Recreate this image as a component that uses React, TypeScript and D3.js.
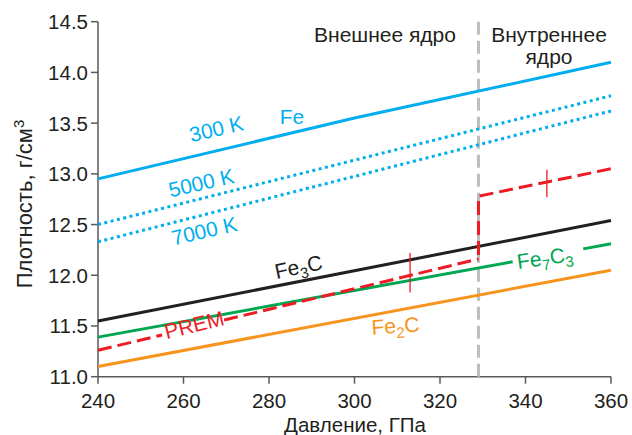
import React from "react";
import * as d3 from "d3";

// pressure, GPa / density, g/cm3
const fe300 = [[240, 12.95], [300, 13.55], [360, 14.1]];
const fe5000 = [[240, 12.5], [360, 13.77]];
const fe7000 = [[240, 12.33], [360, 13.62]];
const fe3c = [[240, 11.55], [360, 12.54]];
const fe7c3 = [[240, 11.39], [360, 12.31]];
const fe2c = [[240, 11.1], [360, 12.05]];
const prem = [[240, 11.26], [329, 12.16], [329, 12.78], [360, 13.05]];
const premBars = [{ p: 313, lo: 11.83, hi: 12.22 }, { p: 345, lo: 12.77, hi: 13.04 }];
const coreBoundary = 329;
const fe7c3Gap = [337, 353.5];
const premGap = [255, 269.5];

const xTicks = [240, 260, 280, 300, 320, 340, 360];
const yTicks = [11.0, 11.5, 12.0, 12.5, 13.0, 13.5, 14.0, 14.5];

const W = 632, H = 435;
const m = { left: 98, right: 21, top: 21.7, bottom: 58.3 };

const BLUE = "#00aeef", BLACK = "#231f20", GREEN = "#00a651", RED = "#ed1c24", ORANGE = "#f7941d", GRAY = "#bcbec0";
const FONT = "'Liberation Sans', Arial, sans-serif";

// split a polyline (by pressure) leaving out a gap
function cut(pts, gap) {
  const f = d3.scaleLinear().domain(pts.map(d => d[0])).range(pts.map(d => d[1]));
  const before = pts.filter(d => d[0] < gap[0]).concat([[gap[0], f(gap[0])]]);
  const after = [[gap[1], f(gap[1])]].concat(pts.filter(d => d[0] > gap[1]));
  return [before, after];
}

export default function App() {
  const x = d3.scaleLinear().domain([240, 360]).range([m.left, W - m.right]);
  const y = d3.scaleLinear().domain([11, 14.5]).range([H - m.bottom, m.top]);
  const line = d3.line().x(d => x(d[0])).y(d => y(d[1]));

  const premFirst = prem.slice(0, 2);
  const [premA, premB] = cut(premFirst, premGap);
  const premRest = prem.slice(1);
  const [greenA, greenB] = cut(fe7c3, fe7c3Gap);

  const tickText = { fontFamily: FONT, fontSize: 20.5, fill: BLACK };
  const lbl = { fontFamily: FONT, fontSize: 21 };

  return (
    <svg width={W} height={H} style={{ position: "absolute", left: 0, top: 0, background: "#fff" }}>
      {/* axes */}
      <g stroke="#58595b" strokeWidth={1.5} fill="none">
        <line x1={x(240)} x2={x(240)} y1={y(14.5)} y2={y(11)} />
        <line x1={x(240)} x2={x(360)} y1={y(11)} y2={y(11)} />
        {yTicks.map(t => <line key={t} x1={x(240) - 7} x2={x(240)} y1={y(t)} y2={y(t)} />)}
        {xTicks.map(t => <line key={t} x1={x(t)} x2={x(t)} y1={y(11)} y2={y(11) + 7} />)}
      </g>
      {yTicks.map(t => (
        <text key={t} x={x(240) - 10} y={y(t)} dy="0.36em" textAnchor="end" style={tickText}>{t.toFixed(1)}</text>
      ))}
      {xTicks.map(t => (
        <text key={t} x={x(t)} y={y(11) + 31} textAnchor="middle" style={tickText}>{t}</text>
      ))}
      <text x={355} y={432} textAnchor="middle" style={{ ...tickText, fontSize: 20.5 }}>Давление, ГПа</text>
      <text transform="translate(32,204) rotate(-90)" textAnchor="middle" style={{ ...tickText, fontSize: 22 }}>
        Плотность, г/см<tspan dy="-8" fontSize={15}>3</tspan>
      </text>

      {/* core boundary */}
      <line x1={x(coreBoundary)} x2={x(coreBoundary)} y1={y(14.5)} y2={y(11)} stroke={GRAY} strokeWidth={3} strokeDasharray="13 6" />
      <text x={385} y={42} textAnchor="middle" style={{ ...lbl, fill: BLACK }}>Внешнее ядро</text>
      <text x={549} y={42} textAnchor="middle" style={{ ...lbl, fill: BLACK }}>Внутреннее</text>
      <text x={549} y={64} textAnchor="middle" style={{ ...lbl, fill: BLACK }}>ядро</text>

      {/* series */}
      <g fill="none" strokeWidth={3}>
        <path d={line(fe300)} stroke={BLUE} />
        <path d={line(fe5000)} stroke={BLUE} strokeDasharray="3 3.5" />
        <path d={line(fe7000)} stroke={BLUE} strokeDasharray="3 3.5" />
        <path d={line(fe2c)} stroke={ORANGE} />
        <path d={line(fe3c)} stroke={BLACK} />
        <path d={line(greenA)} stroke={GREEN} />
        <path d={line(greenB)} stroke={GREEN} />
        <path d={line(premA)} stroke={RED} strokeDasharray="14 6" />
        <path d={line(premB)} stroke={RED} strokeDasharray="14 6" />
        <path d={line(premRest)} stroke={RED} strokeDasharray="14 6" strokeDashoffset={-4} />
      </g>
      {premBars.map(b => (
        <line key={b.p} x1={x(b.p)} x2={x(b.p)} y1={y(b.lo)} y2={y(b.hi)} stroke={RED} strokeWidth={1.3} />
      ))}

      {/* labels */}
      <text transform="translate(218,136) rotate(-13)" textAnchor="middle" style={{ ...lbl, fill: BLUE }}>300 K</text>
      <text x={292} y={124} textAnchor="middle" style={{ ...lbl, fill: BLUE }}>Fe</text>
      <text transform="translate(203,190) rotate(-13)" textAnchor="middle" style={{ ...lbl, fill: BLUE }}>5000 K</text>
      <text transform="translate(206,238) rotate(-13)" textAnchor="middle" style={{ ...lbl, fill: BLUE }}>7000 K</text>
      <text transform="translate(300,274) rotate(-12)" textAnchor="middle" style={{ ...lbl, fill: BLACK }}>
        Fe<tspan dy="5" fontSize={15}>3</tspan><tspan dy="-5">C</tspan>
      </text>
      <text transform="translate(196,332) rotate(-14)" textAnchor="middle" style={{ ...lbl, fill: RED }}>PREM</text>
      <text transform="translate(396,333) rotate(-4)" textAnchor="middle" style={{ ...lbl, fill: ORANGE }}>
        Fe<tspan dy="5" fontSize={15}>2</tspan><tspan dy="-5">C</tspan>
      </text>
      <text transform="translate(546,265) rotate(-8)" textAnchor="middle" style={{ ...lbl, fill: GREEN }}>
        Fe<tspan dy="5" fontSize={15}>7</tspan><tspan dy="-5">C</tspan><tspan dy="5" fontSize={15}>3</tspan>
      </text>
    </svg>
  );
}
